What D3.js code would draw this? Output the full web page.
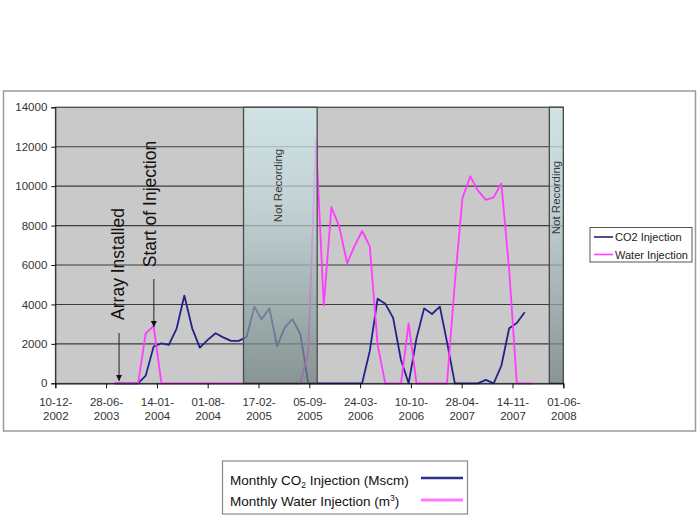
<!DOCTYPE html>
<html>
<head>
<meta charset="utf-8">
<script src="https://cdn.jsdelivr.net/npm/d3@7"></script>
<style>
  html, body { margin: 0; padding: 0; background: #ffffff; }
  svg { display: block; font-family: "Liberation Sans", Arial, sans-serif; }
</style>
</head>
<body>
<svg id="chart" width="700" height="525"></svg>
<script>
// ---- data ----
const months = ["2003-08","2003-09","2003-10","2003-11","2003-12",
  "2004-01","2004-02","2004-03","2004-04","2004-05","2004-06","2004-07","2004-08","2004-09","2004-10","2004-11","2004-12",
  "2005-01","2005-02","2005-03","2005-04","2005-05","2005-06","2005-07","2005-08","2005-09","2005-10","2005-11","2005-12",
  "2006-01","2006-02","2006-03","2006-04","2006-05","2006-06","2006-07","2006-08","2006-09","2006-10","2006-11","2006-12",
  "2007-01","2007-02","2007-03","2007-04","2007-05","2007-06","2007-07","2007-08","2007-09","2007-10","2007-11","2007-12",
  "2008-01","2008-02"];
const co2Injection = [0,0,0,0,390,
  1860,2030,1950,2790,4450,2790,1810,2200,2540,2330,2150,2150,
  2350,3890,3250,3800,1890,2840,3250,2490,0,0,0,0,
  0,0,0,0,1630,4290,4040,3320,1180,0,2280,3800,
  3515,3890,2100,0,0,0,0,170,0,890,2790,3060,
  3600,null];
const waterInjection = [0,0,0,0,2540,
  2900,0,0,0,0,0,0,0,0,0,0,0,
  0,0,0,0,0,0,0,0,1600,12400,3950,8940,
  7950,6085,6930,7725,6960,1950,0,0,0,3040,0,0,
  0,0,0,5100,9400,10500,9770,9300,9430,10140,5745,0,
  0,0];
const notRecording = [["2004-12-20","2005-10-06"],["2008-04-07","2008-06-01"]];
const xTickDates = ["2002-12-10","2003-06-28","2004-01-14","2004-08-01","2005-02-17","2005-09-05",
  "2006-03-24","2006-10-10","2007-04-28","2007-11-14","2008-06-01"];
const yTicks = [0,2000,4000,6000,8000,10000,12000,14000];
const events = [["Array Installed","2003-08-18"],["Start of Injection","2004-01-02"]];
const seriesNames = ["CO2 Injection","Water Injection"];

// ---- layout ----
const svg = d3.select("#chart");
const L = 55.3, R = 563.3, T = 107.3, B = 383.3;
const parse = d3.utcParse("%Y-%m-%d");
const parseM = d3.utcParse("%Y-%m");
const x = d3.scaleUtc().domain([parse("2002-12-10"), parse("2008-06-01")]).range([L, R]);
const y = d3.scaleLinear().domain([0, 14000]).range([B, T]);
const blue = "#22228a", pink = "#ff3cff";

// outer chart frame
svg.append("rect").attr("x", 3.5).attr("y", 91).attr("width", 692).attr("height", 340)
  .attr("fill", "#fff").attr("stroke", "#9a9a9a").attr("stroke-width", 1.5);

// plot area
svg.append("rect").attr("x", L).attr("y", T).attr("width", R - L).attr("height", B - T)
  .attr("fill", "#c9c9c9").attr("stroke", "#8a8a8a").attr("stroke-width", 1);

// gridlines
svg.append("g").selectAll("line").data(yTicks.filter(d => d > 0)).join("line")
  .attr("x1", L).attr("x2", R).attr("y1", d => y(d)).attr("y2", d => y(d))
  .attr("stroke", "#3c3c3c").attr("stroke-width", 1.1);

// series
const rows = months.map((m, i) => ({ d: parseM(m), c: co2Injection[i], w: waterInjection[i] }));
const lineC = d3.line().defined(r => r.c != null).x(r => x(r.d)).y(r => y(r.c));
const lineW = d3.line().defined(r => r.w != null).x(r => x(r.d)).y(r => y(r.w));
svg.append("path").datum(rows).attr("d", lineC).attr("fill", "none")
  .attr("stroke", blue).attr("stroke-width", 1.8).attr("stroke-linejoin", "round");
svg.append("path").datum(rows).attr("d", lineW).attr("fill", "none")
  .attr("stroke", pink).attr("stroke-width", 1.8).attr("stroke-linejoin", "round");

// not recording shaded boxes
const defs = svg.append("defs");
const grad = defs.append("linearGradient").attr("id", "nr").attr("x1", 0).attr("y1", 0).attr("x2", 0).attr("y2", 1);
grad.append("stop").attr("offset", "0%").attr("stop-color", "#d3ecef");
grad.append("stop").attr("offset", "35%").attr("stop-color", "#c0d6d8");
grad.append("stop").attr("offset", "100%").attr("stop-color", "#6f8080");
const nr = svg.append("g").selectAll("g").data(notRecording).join("g");
nr.append("rect")
  .attr("x", d => x(parse(d[0]))).attr("y", T)
  .attr("width", d => x(parse(d[1])) - x(parse(d[0]))).attr("height", B - T)
  .attr("fill", "url(#nr)").attr("fill-opacity", 0.72)
  .attr("stroke", "#4a4a4a").attr("stroke-width", 1.3);
nr.append("text")
  .attr("transform", (d, i) => {
    const cx = (x(parse(d[0])) + x(parse(d[1]))) / 2;
    const cy = i === 0 ? 185.5 : 197.5;
    return `translate(${cx + (i === 0 ? 2 : 4)},${cy}) rotate(-90)`;
  })
  .attr("text-anchor", "middle").attr("font-size", 11.5).attr("fill", "#3a3a3a")
  .text("Not Recording");

// axes
const yAxis = svg.append("g").attr("transform", `translate(${L},0)`)
  .call(d3.axisLeft(y).tickValues(yTicks).tickSize(4).tickPadding(4).tickFormat(d3.format("d")));
yAxis.select(".domain").attr("stroke", "#111");
yAxis.selectAll(".tick line").attr("stroke", "#111");
yAxis.selectAll("text").attr("font-size", 11.5).attr("fill", "#333").attr("font-family", "Liberation Sans, Arial, sans-serif");

const xAxis = svg.append("g").attr("transform", `translate(0,${B})`)
  .call(d3.axisBottom(x).tickValues(xTickDates.map(parse)).tickSize(5).tickFormat(""));
xAxis.select(".domain").attr("stroke", "#111").attr("stroke-width", 1.2);
xAxis.selectAll(".tick line").attr("stroke", "#111");
const fmt1 = d3.utcFormat("%d-%m-"), fmt2 = d3.utcFormat("%Y");
xAxis.selectAll(".tick").each(function(d) {
  const t = d3.select(this).append("text").attr("fill", "#333").attr("font-size", 11.5)
    .attr("text-anchor", "middle").attr("font-family", "Liberation Sans, Arial, sans-serif");
  t.append("tspan").attr("x", 0).attr("y", 23).text(fmt1(d));
  t.append("tspan").attr("x", 0).attr("y", 36.5).text(fmt2(d));
});

// event annotations
defs.append("marker").attr("id", "ah").attr("viewBox", "0 0 10 10").attr("refX", 10).attr("refY", 5)
  .attr("markerWidth", 6).attr("markerHeight", 6).attr("orient", "auto")
  .append("path").attr("d", "M0,0 L10,5 L0,10 z").attr("fill", "#111");
const evX0 = x(parse(events[0][1])), evX1 = x(parse(events[1][1]));
svg.append("line").attr("x1", evX0).attr("x2", evX0).attr("y1", 333).attr("y2", 381)
  .attr("stroke", "#222").attr("stroke-width", 1).attr("marker-end", "url(#ah)");
svg.append("line").attr("x1", evX1).attr("x2", evX1).attr("y1", 279).attr("y2", 327)
  .attr("stroke", "#222").attr("stroke-width", 1).attr("marker-end", "url(#ah)");
svg.append("text").attr("transform", `translate(${evX0 + 5},264) rotate(-90)`)
  .attr("text-anchor", "middle").attr("font-size", 17.5).attr("fill", "#111").text(events[0][0]);
svg.append("text").attr("transform", `translate(${evX1 + 2.5},204) rotate(-90)`)
  .attr("text-anchor", "middle").attr("font-size", 17.5).attr("fill", "#111").text(events[1][0]);

// right legend
const lg = svg.append("g");
lg.append("rect").attr("x", 590).attr("y", 227.5).attr("width", 102).attr("height", 34.5)
  .attr("fill", "#fff").attr("stroke", "#555").attr("stroke-width", 1);
[[blue, seriesNames[0], 237], [pink, seriesNames[1], 254.5]].forEach(([c, n, yy]) => {
  lg.append("line").attr("x1", 594).attr("x2", 613).attr("y1", yy).attr("y2", yy)
    .attr("stroke", c).attr("stroke-width", 1.6);
  lg.append("text").attr("x", 615).attr("y", yy + 4).attr("font-size", 11).attr("fill", "#222").text(n);
});

// bottom legend
const bl = svg.append("g");
bl.append("rect").attr("x", 222.5).attr("y", 461).attr("width", 245).attr("height", 53)
  .attr("fill", "#fff").attr("stroke", "#8a8a8a").attr("stroke-width", 1.2);
const t1 = bl.append("text").attr("x", 230).attr("y", 484.5).attr("font-size", 13.5).attr("fill", "#111");
t1.append("tspan").text("Monthly CO");
t1.append("tspan").attr("font-size", 8.5).attr("dy", 3).text("2");
t1.append("tspan").attr("dy", -3).text(" Injection (Mscm)");
const t2 = bl.append("text").attr("x", 230).attr("y", 506).attr("font-size", 13.5).attr("fill", "#111");
t2.append("tspan").text("Monthly Water Injection (m");
t2.append("tspan").attr("font-size", 8.5).attr("dy", -5).text("3");
t2.append("tspan").attr("dy", 5).text(")");
bl.append("line").attr("x1", 421).attr("x2", 463).attr("y1", 478).attr("y2", 478)
  .attr("stroke", "#2e2e8c").attr("stroke-width", 2.6);
bl.append("line").attr("x1", 421).attr("x2", 463).attr("y1", 500).attr("y2", 500)
  .attr("stroke", "#ff78ff").attr("stroke-width", 2.8);
</script>
</body>
</html>
